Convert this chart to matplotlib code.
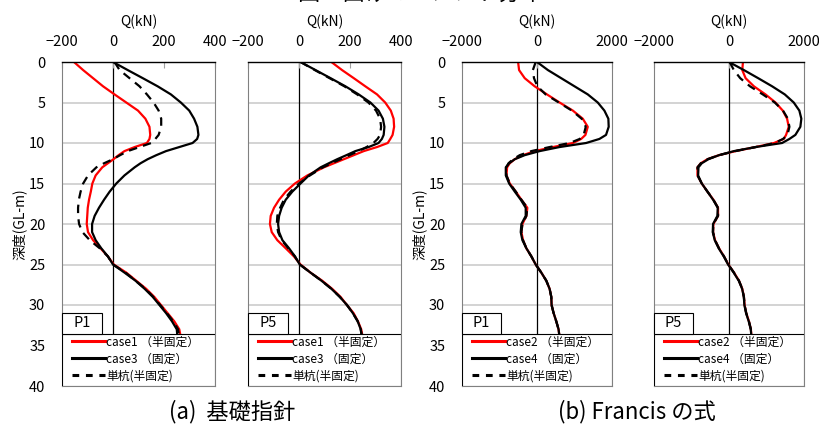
import matplotlib
matplotlib.use("Agg")
import matplotlib.pyplot as plt
from matplotlib.lines import Line2D
from matplotlib.patches import Rectangle

plt.rcParams["font.family"] = ["Noto Sans CJK JP", "DejaVu Sans"]

# depth below ground (m)
depth = [0, 1, 2, 3, 4, 5, 6, 7, 8, 9, 9.5, 10, 10.5, 11, 11.5, 12, 12.5, 13,
         14, 15, 16, 17, 18, 19, 20, 21, 22, 23, 24, 25, 26, 27, 28, 29, 30,
         31, 32, 33, 34]

# (a) 基礎指針, P1
a_p1_case1 = [-153, -117, -78, -39, 6, 52, 98, 127, 143, 146, 143, 133, 85, 45,
              22, 2, -20, -42, -68, -81, -87, -94, -99, -101, -103, -98, -78,
              -49, -20, 3, 52, 91, 130, 162, 188, 214, 240, 260, 266]
a_p1_case3 = [0, 58, 117, 175, 227, 266, 299, 318, 331, 335, 330, 312, 260, 208,
              170, 136, 108, 85, 45, 13, -13, -35, -55, -72, -82, -82, -68,
              -46, -20, 0, 45, 88, 124, 156, 182, 208, 231, 250, 253]
a_p1_single = [6, 26, 65, 104, 133, 159, 179, 189, 189, 179, 166, 150, 104, 58,
               28, 0, -35, -65, -98, -117, -127, -134, -137, -137, -133, -120,
               -91, -52, -20, 0, 49, 88, 127, 158, 185, 211, 236, 255, 260]

# (a) 基礎指針, P5
a_p5_case1 = [127, 169, 215, 260, 306, 338, 360, 371, 373, 367, 358, 348, 306,
              254, 215, 176, 137, 98, 33, -16, -52, -78, -98, -111, -114, -107,
              -85, -52, -20, 6, 45, 91, 130, 163, 188, 214, 231, 244, 250]
a_p5_case3 = [6, 65, 124, 182, 234, 280, 312, 329, 335, 332, 325, 312, 273, 221,
              186, 150, 117, 85, 39, 6, -26, -52, -68, -78, -82, -78, -65, -39,
              -16, 3, 45, 88, 127, 160, 188, 211, 230, 242, 247]
a_p5_single = [6, 62, 120, 178, 228, 272, 302, 318, 322, 318, 308, 292, 265,
               234, 198, 163, 128, 94, 43, 0, -33, -59, -74, -85, -87, -82, -68,
               -42, -16, 3, 45, 88, 127, 160, 188, 211, 230, 242, 247]

# (b) Francis の式, P1
b_p1_case2 = [-504, -478, -327, -62, 265, 602, 956, 1221, 1354, 1292, 1177, 956,
              425, -62, -372, -593, -726, -797, -814, -726, -566, -416, -257,
              -283, -389, -416, -372, -283, -150, -35, 115, 248, 336, 381, 389,
              443, 513, 575, 602]
b_p1_case4 = [0, 292, 646, 1000, 1354, 1620, 1797, 1903, 1912, 1841, 1664, 1310,
              602, 71, -327, -593, -743, -832, -832, -743, -593, -434, -301,
              -301, -416, -434, -389, -283, -150, -35, 115, 248, 336, 381, 389,
              443, 513, 575, 602]
b_p1_single = [-35, -110, -80, 10, 230, 580, 930, 1190, 1300, 1245, 1140, 870,
               336, -150, -460, -637, -760, -815, -814, -726, -566, -416, -257,
               -283, -389, -416, -372, -283, -150, -35, 115, 248, 336, 381, 389,
               443, 513, 575, 602]

# (b) Francis の式, P5
b_p5_case2 = [372, 354, 443, 664, 973, 1239, 1434, 1549, 1593, 1522, 1460, 1200,
              708, 177, -266, -575, -752, -841, -841, -726, -575, -416, -292,
              -292, -416, -425, -372, -266, -133, -18, 133, 266, 354, 398, 416,
              460, 531, 584, 602]
b_p5_case4 = [0, 398, 779, 1150, 1487, 1726, 1876, 1929, 1903, 1770, 1611, 1416,
              708, 133, -266, -549, -726, -814, -823, -726, -575, -425, -300,
              -310, -425, -434, -380, -275, -140, -25, 125, 260, 350, 395, 410,
              455, 525, 580, 600]
b_p5_single = [18, 130, 300, 560, 900, 1220, 1440, 1570, 1611, 1560, 1440, 1220,
               720, 170, -266, -575, -752, -841, -841, -726, -575, -416, -292,
               -292, -416, -425, -372, -266, -133, -18, 133, 266, 354, 398, 416,
               460, 531, 584, 602]

panels = [
    ("P1", "case1", "case3", a_p1_case1, a_p1_case3, a_p1_single, (-200, 400), [-200, 0, 200, 400], True),
    ("P5", "case1", "case3", a_p5_case1, a_p5_case3, a_p5_single, (-200, 400), [-200, 0, 200, 400], False),
    ("P1", "case2", "case4", b_p1_case2, b_p1_case4, b_p1_single, (-2000, 2000), [-2000, 0, 2000], True),
    ("P5", "case2", "case4", b_p5_case2, b_p5_case4, b_p5_single, (-2000, 2000), [-2000, 0, 2000], False),
]
lefts = [62, 248, 462, 654]
widths = [153, 153, 150, 150]

W, H = 819, 426
fig = plt.figure(figsize=(W / 100, H / 100), dpi=100)

dash = (0, (3.8, 2.8))
for (pile, semi, fixed, red, black, single, xlim, xticks, show_y), left, width in zip(panels, lefts, widths):
    ax = fig.add_axes([left / W, (H - 386) / H, width / W, 324 / H])
    ax.plot(red, depth, color="#ff0000", lw=1.6)
    ax.plot(black, depth, color="black", lw=1.6)
    ax.plot(single, depth, color="black", lw=1.6, linestyle=dash)
    ax.axvline(0, color="black", lw=0.9, zorder=1.5)

    ax.set_xlim(*xlim)
    ax.set_ylim(40, 0)
    ax.set_yticks(range(0, 41, 5))
    ax.set_xticks(xticks)
    ax.xaxis.tick_top()
    ax.xaxis.set_label_position("top")
    ax.set_xlabel("Q(kN)", fontsize=10, labelpad=7)
    ax.tick_params(axis="x", direction="in", length=4, color="#a0a0a0", pad=9, labelsize=10.5)
    ax.tick_params(axis="y", length=0, pad=12, labelsize=10.5, labelleft=show_y)
    if show_y:
        ax.set_ylabel("深度(GL-m)", fontsize=10, labelpad=2)
    for y in range(5, 40, 5):
        ax.axhline(y, color="#cccccc", lw=1.2, zorder=0.5)
    for side in ["left", "right", "bottom"]:
        ax.spines[side].set_color("#808080")
        ax.spines[side].set_linewidth(0.8)
    ax.spines["top"].set_color("black")
    ax.spines["top"].set_linewidth(1.0)

    # legend box spanning the panel bottom, with the pile tag above it
    ax.add_patch(Rectangle((0, 0), 1, 0.16, transform=ax.transAxes,
                           facecolor="white", edgecolor="black", lw=0.8, zorder=5))
    handles = [
        Line2D([], [], color="#ff0000", lw=2.2),
        Line2D([], [], color="black", lw=2.2),
        Line2D([], [], color="black", lw=2.2, linestyle=(0, (2.2, 2.2))),
    ]
    labels = [f"{semi} （半固定）", f"{fixed} （固定）", "単杭(半固定)"]
    leg = ax.legend(handles, labels, loc="lower left", bbox_to_anchor=(0.04, 0.0),
                    borderaxespad=0, frameon=False, fontsize=8.5, handlelength=2.8,
                    handletextpad=0.15, borderpad=0.3, labelspacing=0.34)
    leg.set_zorder(6)

    ax.add_patch(Rectangle((0, 0.16), 0.26, 0.066, transform=ax.transAxes,
                           facecolor="white", edgecolor="black", lw=0.8,
                           zorder=7, clip_on=False))
    ax.text(0.13, 0.193, pile, transform=ax.transAxes, ha="center", va="center",
            fontsize=10.5, zorder=8)

fig.text(420 / W, 1 + 7 / H, "図 6 曲げモーメント分布", ha="center", va="center", fontsize=16)
fig.text(232 / W, (H - 412) / H, "(a)  基礎指針", ha="center", va="center", fontsize=16)
fig.text(637 / W, (H - 412) / H, "(b) Francis の式", ha="center", va="center", fontsize=16)

fig.savefig("out.png", dpi=100)
